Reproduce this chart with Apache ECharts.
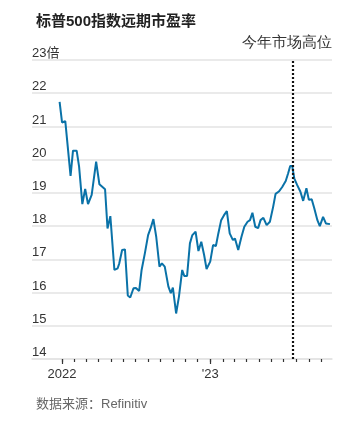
<!DOCTYPE html>
<html>
<head>
<meta charset="utf-8">
<script src="https://cdn.jsdelivr.net/npm/echarts@6/dist/echarts.min.js"></script>
<style>
html,body{margin:0;padding:0;background:#fff;}
#c{width:358px;height:428px;}
</style>
</head>
<body>
<div id="c"></div>
<script>
const title = '标普500指数远期市盈率';
const note = '今年市场高位';
const source = '数据来源：Refinitiv';
const peakDate = '2023-07-24';
const dates = ['2021-12-26','2022-01-01','2022-01-09','2022-01-22','2022-01-28','2022-02-06','2022-02-12','2022-02-20','2022-02-27','2022-03-06','2022-03-15','2022-03-26','2022-04-03','2022-04-17','2022-04-23','2022-04-30','2022-05-10','2022-05-18','2022-05-22','2022-05-29','2022-06-05','2022-06-12','2022-06-18','2022-06-26','2022-07-02','2022-07-10','2022-07-16','2022-07-24','2022-08-01','2022-08-07','2022-08-14','2022-08-21','2022-08-29','2022-09-04','2022-09-11','2022-09-20','2022-09-26','2022-10-01','2022-10-09','2022-10-16','2022-10-24','2022-10-29','2022-11-05','2022-11-12','2022-11-18','2022-11-26','2022-12-03','2022-12-10','2022-12-17','2022-12-23','2023-01-01','2023-01-08','2023-01-15','2023-01-21','2023-01-28','2023-02-04','2023-02-11','2023-02-18','2023-02-26','2023-03-03','2023-03-11','2023-03-19','2023-03-26','2023-04-03','2023-04-09','2023-04-15','2023-04-22','2023-04-29','2023-05-05','2023-05-12','2023-05-20','2023-05-28','2023-06-05','2023-06-11','2023-06-19','2023-06-27','2023-07-06','2023-07-12','2023-07-17','2023-07-22','2023-07-27','2023-08-03','2023-08-11','2023-08-18','2023-08-26','2023-09-01','2023-09-08','2023-09-14','2023-09-22','2023-09-28','2023-10-06','2023-10-13','2023-10-23'];
const pe = [21.74,21.12,21.16,19.51,20.27,20.27,19.79,18.66,19.12,18.66,18.94,19.94,19.26,19.11,17.93,18.30,16.68,16.73,16.88,17.28,17.30,15.91,15.85,16.13,16.14,16.05,16.68,17.18,17.73,17.93,18.21,17.68,16.78,16.88,16.78,16.18,15.98,16.15,15.37,15.88,16.68,16.50,16.50,17.48,17.73,17.83,17.25,17.53,17.13,16.71,16.93,17.43,17.40,17.78,18.18,18.33,18.45,17.78,17.58,17.63,17.28,17.68,17.98,18.13,18.18,18.40,17.98,17.94,18.18,18.25,18.03,18.13,18.58,18.97,19.04,19.17,19.36,19.59,19.81,19.81,19.44,19.24,19.04,18.76,19.14,18.79,18.81,18.55,18.18,18.00,18.28,18.08,18.06];
const majorTicks = ['2022-01-01','2023-01-01'];
const majorLabels = ['2022', "'23"];
const monthTicks = ['2022-01-01','2022-02-01','2022-03-01','2022-04-01','2022-05-01','2022-06-01','2022-07-01','2022-08-01','2022-09-01','2022-10-01','2022-11-01','2022-12-01','2023-01-01','2023-02-01','2023-03-01','2023-04-01','2023-05-01','2023-06-01','2023-07-01','2023-08-01','2023-09-01','2023-10-01'];
const yTicks = [14,15,16,17,18,19,20,21,22,23];
const yUnit = '倍';
const xMin = '2021-10-19', xMax = '2023-10-28';

const ts = s => echarts.time.parse(s).getTime();
const FONT = '"Liberation Sans", "Noto Sans CJK SC", sans-serif';
const chart = echarts.init(document.getElementById('c'));
const majorTs = majorTicks.map(ts);
const xBase = {type:'value', min: ts(xMin), max: ts(xMax), splitLine:{show:false}, scale:true};
chart.setOption({
  animation:false,
  textStyle:{fontFamily:FONT},
  title:[
    {text:title, left:31, top:9, textStyle:{fontSize:15, fontWeight:'bold', color:'#222', fontFamily:FONT}},
    {text:source, left:31, top:393, textStyle:{fontSize:13, fontWeight:'normal', color:'#666', fontFamily:FONT}}
  ],
  grid:{left:32, right:26, top:60, bottom:69},
  xAxis:[
    Object.assign({}, xBase, {
      axisLine:{show:true, lineStyle:{color:'#e3e3e3', width:1.5}},
      axisTick:{show:true, customValues: majorTs, length:5, lineStyle:{color:'#333', width:1.2}},
      axisLabel:{show:true, customValues: majorTs, margin:9, fontSize:13, color:'#333', fontFamily:FONT,
        formatter: v => { const i = majorTs.indexOf(v); return i >= 0 ? majorLabels[i] : ''; }}
    }),
    Object.assign({}, xBase, {
      position:'bottom',
      axisLine:{show:false},
      axisTick:{show:true, customValues: monthTicks.map(ts), length:3, lineStyle:{color:'#333', width:1.2}},
      axisLabel:{show:false}
    })
  ],
  yAxis:{
    type:'value', min:yTicks[0], max:yTicks[yTicks.length-1], interval:1,
    axisLine:{show:false}, axisTick:{show:false},
    splitLine:{show:true, lineStyle:{color:'#e3e3e3', width:1.5}},
    axisLabel:{inside:true, margin:0, align:'left', verticalAlign:'bottom', padding:[0,0,0,0],
      fontSize:13, color:'#333', fontFamily:FONT,
      formatter: v => v === yTicks[yTicks.length-1] ? v + yUnit : String(v)}
  },
  graphic:[{type:'text', right:26, top:35, style:{text:note, fontSize:15, fill:'#333', font:'15px ' + FONT, textAlign:'right'}}],
  series:[{
    type:'line', xAxisIndex:0, showSymbol:false, smooth:false,
    data: dates.map((d,i)=>[ts(d), pe[i]]),
    lineStyle:{color:'#0a72a8', width:2},
    itemStyle:{color:'#0a72a8'},
    markLine:{silent:true, symbol:'none', label:{show:false},
      lineStyle:{color:'#111', width:2.2, type:[2,2], cap:'butt'},
      data:[{xAxis: ts(peakDate)}]}
  }]
});
</script>
</body>
</html>
